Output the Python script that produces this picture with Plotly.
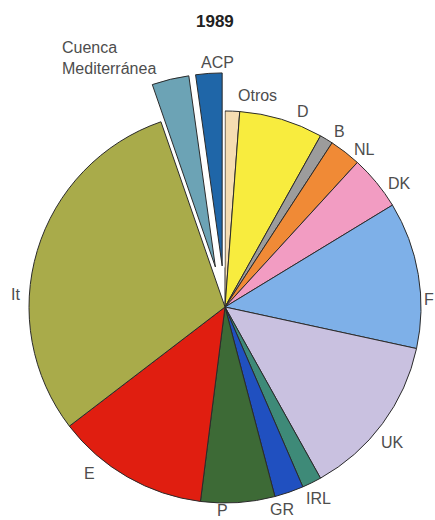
import math
import plotly.graph_objects as go

# ---------------- data ----------------
labels = ["Otros", "D", "B", "NL", "DK", "F", "UK", "IRL", "GR", "P", "E", "It",
          "Cuenca Mediterránea", "ACP"]
values = [1.2, 6.9, 1.1, 2.6, 4.5, 12.1, 13.5, 1.6, 2.4, 6.1, 12.6, 30.1, 3.1, 2.2]
pulled = ["Cuenca Mediterránea", "ACP"]
title_text = "1989"

# ---------------- style ----------------
colors = ["#F6DDB2", "#F8EC3E", "#9C9C9C", "#F08A36", "#F29CC2", "#7EB0E8",
          "#C9C1E0", "#3E8A78", "#2050C0", "#3D6A36", "#E01E10", "#A9AB4A",
          "#6CA3B5", "#1F66A8"]
W, H = 435, 520
CX, CY, R = 225, 307, 196    # page pixels
R_PULL = 193
PULL = 0.21
EDGE = "#2b2b2b"
FONT = "Liberation Sans"
LABEL_COLOR = "#4d4d4d"
LABEL_SIZE = 16

# label anchor positions in page pixels (centre of text)
label_pos = {
    "Otros": (257, 95), "D": (303, 111), "B": (339, 131), "NL": (364, 149),
    "DK": (399, 183), "F": (429, 299), "UK": (392, 442), "IRL": (318, 498),
    "GR": (282, 509), "P": (222, 510), "E": (89, 473), "It": (15, 294),
    "ACP": (217, 62),
}
cuenca_left, cuenca_cy = 60, 58


def px_x(px):
    return px / W


def px_y(py):
    return 1 - py / H


def domain(cx, cy, r):
    return dict(x=[px_x(cx - r), px_x(cx + r)], y=[px_y(cy + r), px_y(cy - r)])


n = len(labels)
transparent = "rgba(0,0,0,0)"
fig = go.Figure()

main_colors = [transparent if l in pulled else c for l, c in zip(labels, colors)]
main_lw = [0 if l in pulled else 1 for l in labels]
fig.add_trace(go.Pie(
    labels=labels, values=values, sort=False, direction="clockwise", rotation=0,
    marker=dict(colors=main_colors, line=dict(color=EDGE, width=main_lw)),
    textinfo="none", hoverinfo="label+percent", domain=domain(CX, CY, R),
    showlegend=False,
))

total = sum(values)
for name in pulled:
    i = labels.index(name)
    before = sum(values[:i])
    theta = math.radians(360 * (before + values[i] / 2) / total)
    cx = CX + PULL * R * math.sin(theta)
    cy = CY - PULL * R * math.cos(theta)
    for lw, lc in ((5, "white"), (1, EDGE)):
        cols = [colors[j] if j == i else transparent for j in range(n)]
        lws = [lw if j == i else 0 for j in range(n)]
        fig.add_trace(go.Pie(
            labels=labels, values=values, sort=False, direction="clockwise",
            rotation=0,
            marker=dict(colors=cols, line=dict(color=lc, width=lws)),
            textinfo="none", hoverinfo="skip", domain=domain(cx, cy, R_PULL),
            showlegend=False,
        ))

annotations = []
for name, (px, py) in label_pos.items():
    annotations.append(dict(
        x=px_x(px), y=px_y(py), xref="paper", yref="paper", text=name,
        showarrow=False, xanchor="center", yanchor="middle",
        font=dict(family=FONT, size=LABEL_SIZE, color=LABEL_COLOR),
    ))
annotations.append(dict(
    x=px_x(cuenca_left), y=px_y(cuenca_cy), xref="paper", yref="paper",
    text="Cuenca<br>Mediterránea", showarrow=False, xanchor="left",
    yanchor="middle", align="left",
    font=dict(family=FONT, size=LABEL_SIZE, color=LABEL_COLOR),
))
annotations.append(dict(
    x=px_x(215), y=px_y(22), xref="paper", yref="paper",
    text="<b>" + title_text + "</b>", showarrow=False, xanchor="center",
    yanchor="middle", font=dict(family=FONT, size=17, color="#222222"),
))

fig.update_layout(
    width=W, height=H, margin=dict(l=0, r=0, t=0, b=0),
    paper_bgcolor="white", plot_bgcolor="white", annotations=annotations,
)
fig.write_html(
    "out.html",
    config={"displayModeBar": False},
    post_script="document.body.style.margin='0';document.body.style.overflow='hidden';",
)
